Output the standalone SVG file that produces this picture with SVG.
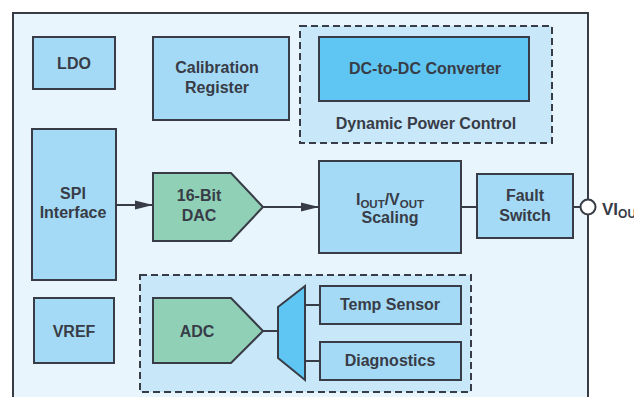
<svg xmlns="http://www.w3.org/2000/svg" width="634" height="397" viewBox="0 0 634 397">
<defs>
<style>
.bx{fill:#a4daf6;stroke:#383c47;stroke-width:2}
.dc{fill:#5fc6f3;stroke:#383c47;stroke-width:2}
.gr{fill:#8fd0b6;stroke:#383c47;stroke-width:2}
.dash{fill:#c8e7f8;stroke:#383c47;stroke-width:2;stroke-dasharray:7 4}
.t{font-family:"Liberation Sans",Arial,sans-serif;font-weight:bold;font-size:16px;fill:#383c47;text-anchor:middle}
.ln{stroke:#383c47;stroke-width:2;fill:none}
</style>
<marker id="ah2" viewBox="0 0 18 10" refX="18" refY="5" markerWidth="18" markerHeight="10" markerUnits="userSpaceOnUse" orient="auto">
<path d="M0,0.5 L18,5 L0,9.5 z" fill="#383c47"/>
</marker>
</defs>
<rect x="0" y="0" width="634" height="397" fill="#ffffff"/>
<rect id="chip" x="13" y="13" width="575" height="400" fill="#e8f5fd" stroke="#383c47" stroke-width="2"/>

<g id="ldo"><rect class="bx" x="33" y="37" width="82" height="52"/><text class="t" x="74" y="69">LDO</text></g>
<g id="calib"><rect class="bx" x="153" y="37" width="136" height="83"/><text class="t" x="217" y="73">Calibration</text><text class="t" x="217" y="93">Register</text></g>
<g id="dpc"><rect class="dash" x="300" y="26" width="252" height="117"/><text class="t" x="426" y="129">Dynamic Power Control</text></g>
<g id="dcdc"><rect class="dc" x="319" y="37" width="210" height="64"/><text class="t" x="425" y="74">DC-to-DC Converter</text></g>
<g id="spi"><rect class="bx" x="32" y="129" width="84" height="151"/><text class="t" x="73" y="199">SPI</text><text class="t" x="73" y="218">Interface</text></g>
<g id="dac"><path class="gr" d="M153,173 L231,173 L263,207 L231,241 L153,241 Z"/><text class="t" x="199" y="201">16-Bit</text><text class="t" x="199" y="221">DAC</text></g>
<g id="scaling"><rect class="bx" x="319" y="161" width="142" height="92"/><text class="t" x="390" y="205">I<tspan font-size="11.5" dy="3">OUT</tspan><tspan dy="-3">/V</tspan><tspan font-size="11.5" dy="3">OUT</tspan></text><text class="t" x="390" y="223">Scaling</text></g>
<g id="fault"><rect class="bx" x="477" y="174" width="96" height="64"/><text class="t" x="525" y="201">Fault</text><text class="t" x="525" y="221">Switch</text></g>
<g id="vref"><rect class="bx" x="34" y="298" width="80" height="65"/><text class="t" x="74" y="337">VREF</text></g>
<g id="diaggroup"><rect class="dash" x="140" y="275" width="331" height="117"/></g>
<g id="adc"><path class="gr" d="M153,298 L231,298 L263,331 L231,363 L153,363 Z"/><text class="t" x="197" y="337">ADC</text></g>
<g id="mux"><path class="dc" d="M278,307 L305,286 L305,380 L278,358 Z"/></g>
<g id="temp"><rect class="bx" x="320" y="286" width="141" height="38"/><text class="t" x="390" y="310">Temp Sensor</text></g>
<g id="diag"><rect class="bx" x="320" y="342" width="141" height="38"/><text class="t" x="390" y="366">Diagnostics</text></g>
<g id="vout"><circle cx="588" cy="207" r="7.5" fill="#ffffff" stroke="#383c47" stroke-width="2"/><text font-family="'Liberation Sans',Arial,sans-serif" font-weight="bold" font-size="17" fill="#383c47" x="602" y="215">VI<tspan font-size="12" dy="3">OUT</tspan></text></g>

<g id="connectors">
<line class="ln" x1="116" y1="205" x2="153" y2="205" marker-end="url(#ah2)"/>
<line class="ln" x1="263" y1="207" x2="319" y2="207" marker-end="url(#ah2)"/>
<line class="ln" x1="461" y1="207" x2="477" y2="207"/>
<line class="ln" x1="573" y1="207" x2="580.5" y2="207"/>
<line class="ln" x1="263" y1="331" x2="278" y2="331" stroke-width="2.5"/>
<line class="ln" x1="305" y1="305" x2="320" y2="305"/>
<line class="ln" x1="305" y1="361" x2="320" y2="361"/>
</g>
</svg>
